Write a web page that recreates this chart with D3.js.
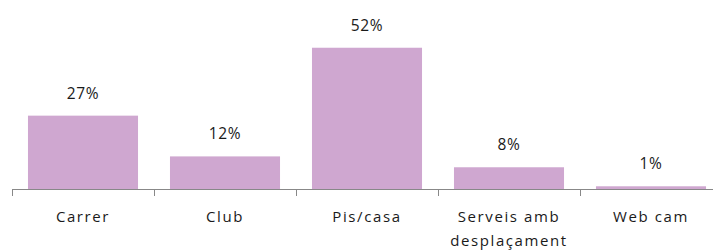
<!DOCTYPE html>
<html>
<head>
<meta charset="utf-8">
<script src="https://cdn.jsdelivr.net/npm/d3@7"></script>
<style>
  body { margin: 0; background: #fff; }
  text { font-family: "Open Sans", sans-serif; fill: #1a1a1a; }
</style>
</head>
<body>
<div id="chart"></div>
<script>
var categories = ["Carrer", "Club", "Pis/casa", "Serveis amb|desplaçament", "Web cam"];
var values = [27, 12, 52, 8, 1];
var valueLabels = ["27%", "12%", "52%", "8%", "1%"];

var width = 713;
var height = 251;
var baseY = 189;

var svg = d3.select("#chart")
  .append("svg")
  .attr("width", width)
  .attr("height", height);

/* Scales */
var xScale = d3.scaleBand()
  .domain(categories)
  .range([12, 722])
  .paddingInner(0.225)
  .paddingOuter(0.1125);

var yScale = d3.scaleLinear()
  .domain([0, 60])
  .range([baseY, 26]);

var step = xScale.step();
var gap = step * 0.225 / 2;

/* Bars */
svg.append("g")
  .selectAll("rect")
  .data(values)
  .enter()
  .append("rect")
  .attr("x", (d, i) => xScale(categories[i]))
  .attr("y", d => yScale(d))
  .attr("width", xScale.bandwidth())
  .attr("height", d => baseY - yScale(d))
  .attr("fill", "#cfa7d0");

/* Value labels */
svg.append("g")
  .selectAll("text")
  .data(values)
  .enter()
  .append("text")
  .attr("x", (d, i) => xScale(categories[i]) + xScale.bandwidth() / 2)
  .attr("y", d => yScale(d) - 17)
  .attr("text-anchor", "middle")
  .style("font-size", "15.5px")
  .style("letter-spacing", "0.6px")
  .text((d, i) => valueLabels[i]);

/* Axis line and boundary ticks */
var axis = svg.append("g").attr("class", "x axis");
axis.append("line")
  .attr("x1", xScale(categories[0]) - gap)
  .attr("x2", width)
  .attr("y1", baseY + 0.5)
  .attr("y2", baseY + 0.5)
  .attr("stroke", "#888");

axis.selectAll(".tick")
  .data(categories)
  .enter()
  .append("line")
  .attr("class", "tick")
  .attr("x1", d => Math.round(xScale(d) - gap) + 0.5)
  .attr("x2", d => Math.round(xScale(d) - gap) + 0.5)
  .attr("y1", baseY)
  .attr("y2", baseY + 7)
  .attr("stroke", "#888");

/* Category labels */
var labels = axis.selectAll(".cat")
  .data(categories)
  .enter()
  .append("text")
  .attr("class", "cat")
  .attr("text-anchor", "middle")
  .style("font-size", "15px")
  .style("letter-spacing", "1.6px");

labels.selectAll("tspan")
  .data(d => d.split("|").map(s => ({ s: s, c: d })))
  .enter()
  .append("tspan")
  .attr("x", d => xScale(d.c) + xScale.bandwidth() / 2)
  .attr("y", (d, i) => 222 + i * 24)
  .text(d => d.s);
</script>
</body>
</html>
